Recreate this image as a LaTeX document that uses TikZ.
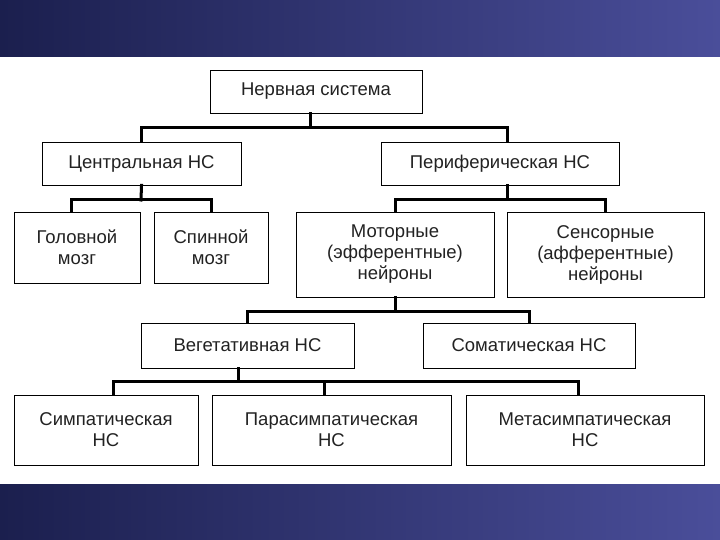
\documentclass[tikz,border=0pt]{standalone}
\usepackage{fontspec}
\setmainfont{Liberation Sans}
\definecolor{navyA}{HTML}{1B1F4E}
\definecolor{navyB}{HTML}{4A4E9A}
\definecolor{txt}{HTML}{222222}
\begin{document}
\begin{tikzpicture}[x=1pt,y=-1pt,
  bx/.style={draw=black,line width=0.8pt,fill=white,align=center,text=txt,font=\fontsize{18.5}{21}\selectfont,inner sep=0pt},
  bus/.style={line width=3pt,line cap=rect}]
\useasboundingbox (0,0) rectangle (720,540);
\fill[white] (0,0) rectangle (720,540);
\shade[left color=navyA,right color=navyB] (0,0) rectangle (720,57);
\shade[left color=navyA,right color=navyB] (0,484) rectangle (720,540);
\newcommand\bxat[6]{\node[bx,minimum width=#4-#2,minimum height=#5-#3] (#1) at ({(#2+#4)/2},{(#3+#5)/2}) {#6};}
\bxat{ns}{210}{70}{422}{113}{Нервная система}
\bxat{cns}{42}{142}{241}{185}{Центральная НС}
\bxat{pns}{381}{142}{619}{185}{Периферическая НС}
\bxat{gm}{14}{212}{140}{283}{Головной\\мозг}
\bxat{sm}{154}{212}{268}{283}{Спинной\\мозг}
\bxat{mot}{296}{212}{494}{297}{Моторные\\(эфферентные)\\нейроны}
\bxat{sen}{507}{212}{704}{297}{Сенсорные\\(афферентные)\\нейроны}
\bxat{veg}{141}{323}{354}{368}{Вегетативная НС}
\bxat{som}{423}{323}{635}{368}{Соматическая НС}
\bxat{sym}{14}{395}{198}{465}{Симпатическая\\НС}
\bxat{par}{212}{395}{451}{465}{Парасимпатическая\\НС}
\bxat{met}{466}{395}{704}{465}{Метасимпатическая\\НС}
\coordinate (b1) at (310,128);
\draw[bus] (ns.south -| b1) -- (b1);
\draw[bus] (cns.north) |- (b1) -| ([xshift=7pt]pns.north);
\coordinate (b2) at (141,200);
\draw[bus] (cns.south) -- (b2);
\draw[bus] ([xshift=-6pt]gm.north) |- (b2) -| (sm.north);
\coordinate (b3) at (507,200);
\draw[bus] (pns.south -| b3) -- (b3);
\draw[bus] (mot.north) |- (b3) -| (sen.north);
\coordinate (b4) at (395,311);
\draw[bus] (mot.south) -- (b4);
\draw[bus] (veg.north) |- (b4) -| (som.north);
\coordinate (b5) at (238,381);
\draw[bus] (veg.south -| b5) -- (b5);
\draw[bus] ([xshift=7pt]sym.north) |- (b5) -| ([xshift=-7pt]met.north);
\draw[bus] ([xshift=-7pt]par.north) -- ([xshift=-7pt]par.north |- b5);
\end{tikzpicture}
\end{document}
